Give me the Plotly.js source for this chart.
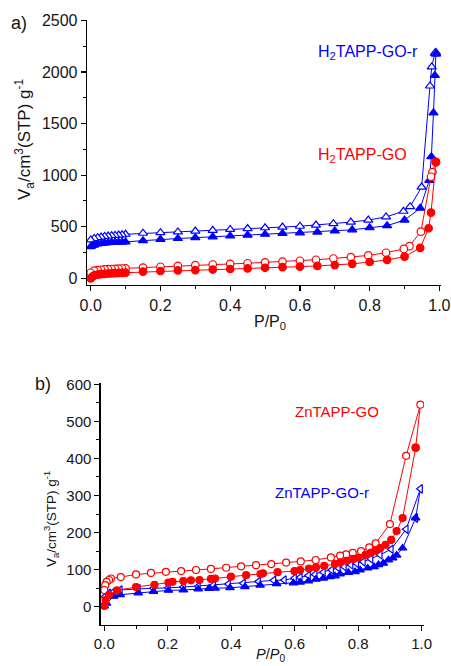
<!DOCTYPE html>
<html>
<head>
<meta charset="utf-8">
<script src="https://cdn.plot.ly/plotly-3.0.1.min.js"></script>
<style>
html,body{margin:0;padding:0;background:#fff;}
#chart{width:451px;height:666px;}
</style>
</head>
<body>
<div id="chart"></div>
<script>
// ---------- Panel a) H2TAPP-GO-r (blue triangles) ----------
const aRAdsX = [0.0, 0.005, 0.01, 0.02, 0.03, 0.04, 0.05, 0.06, 0.07, 0.08, 0.09, 0.1, 0.15, 0.2, 0.25, 0.3, 0.35, 0.4, 0.45, 0.5, 0.55, 0.6, 0.65, 0.7, 0.75, 0.8, 0.85, 0.9, 0.945, 0.971, 0.977, 0.983, 0.987, 0.99];
const aRAdsY = [307, 318, 325, 333, 338, 342, 345, 347, 349, 350, 351, 353, 365, 378, 386, 394, 402, 410, 418, 427, 435, 441, 448, 459, 470, 490, 510, 565, 680, 950, 1180, 1605, 1967, 2177];
const aRDesX = [0.99, 0.987, 0.978, 0.973, 0.949, 0.916, 0.897, 0.847, 0.796, 0.746, 0.696, 0.646, 0.6, 0.55, 0.5, 0.45, 0.4, 0.35, 0.3, 0.25, 0.2, 0.15, 0.1, 0.09, 0.08, 0.07, 0.06, 0.05, 0.04, 0.03, 0.02, 0.01, 0.0];
const aRDesY = [2190, 2183, 2050, 1865, 885, 695, 650, 595, 565, 545, 530, 516, 505, 497, 490, 482, 474, 465, 458, 450, 443, 437, 427, 422, 419, 416, 413, 410, 406, 400, 394, 386, 372];

// ---------- Panel a) H2TAPP-GO (red circles) ----------
const aGAdsX = [0.0, 0.005, 0.01, 0.02, 0.03, 0.04, 0.05, 0.06, 0.07, 0.08, 0.09, 0.1, 0.15, 0.2, 0.25, 0.3, 0.35, 0.4, 0.45, 0.5, 0.55, 0.6, 0.65, 0.7, 0.75, 0.8, 0.85, 0.9, 0.945, 0.969, 0.976, 0.99];
const aGAdsY = [0, 16, 28, 36, 40, 43, 46, 48, 50, 52, 53, 55, 65, 71, 76, 80, 85, 90, 96, 102, 108, 113, 120, 128, 140, 158, 178, 210, 295, 485, 637, 1127];
const aGDesX = [0.99, 0.98, 0.976, 0.947, 0.914, 0.898, 0.847, 0.796, 0.746, 0.696, 0.646, 0.6, 0.55, 0.5, 0.45, 0.4, 0.35, 0.3, 0.25, 0.2, 0.15, 0.1, 0.09, 0.08, 0.07, 0.06, 0.05, 0.04, 0.03, 0.02, 0.01, 0.0];
const aGDesY = [1130, 1030, 985, 452, 312, 285, 248, 222, 205, 192, 180, 170, 162, 155, 146, 140, 134, 127, 120, 112, 104, 96, 95, 93, 92, 90, 88, 86, 83, 80, 74, 54];

// ---------- Panel b) ZnTAPP-GO (red circles) ----------
const bGAdsX = [0.0, 0.004, 0.015, 0.04, 0.1, 0.158, 0.202, 0.215, 0.249, 0.273, 0.3, 0.336, 0.349, 0.399, 0.447, 0.492, 0.5, 0.546, 0.599, 0.617, 0.645, 0.667, 0.693, 0.727, 0.743, 0.764, 0.785, 0.801, 0.823, 0.841, 0.855, 0.869, 0.886, 0.904, 0.921, 0.94, 0.981];
const bGAdsY = [2, 18, 32, 44, 53, 59, 65, 67, 69, 71, 72, 75, 76, 81, 85, 88, 90, 93, 96, 99, 103, 106, 110, 115, 119, 124, 129, 132, 140, 146, 151, 158, 167, 180, 204, 239, 429];
const bGDesX = [0.996, 0.951, 0.9, 0.855, 0.835, 0.809, 0.783, 0.762, 0.743, 0.714, 0.666, 0.619, 0.573, 0.526, 0.478, 0.431, 0.384, 0.336, 0.289, 0.242, 0.194, 0.147, 0.1, 0.052, 0.021, 0.015, 0.0075, 0.003, 0.0];
const bGDesY = [545, 407, 223, 171, 160, 150, 145, 141, 138, 133, 126, 122, 119, 115, 112, 109, 105, 102, 99, 96, 94, 91, 87, 80, 76, 72, 67, 58, 45];

// ---------- Panel b) ZnTAPP-GO-r (blue triangles) ----------
const bRAdsX = [0.0, 0.007, 0.03, 0.05, 0.107, 0.155, 0.202, 0.249, 0.296, 0.33, 0.349, 0.396, 0.443, 0.491, 0.543, 0.596, 0.617, 0.643, 0.667, 0.69, 0.711, 0.727, 0.743, 0.769, 0.79, 0.806, 0.83, 0.85, 0.864, 0.879, 0.895, 0.909, 0.921, 0.94, 0.981];
const bRAdsY = [2, 9, 28, 32, 37, 41, 44, 45, 48, 49, 50, 51, 54, 58, 62, 64, 66, 69, 74, 77, 81, 83, 88, 92, 94, 99, 104, 108, 113, 117, 126, 131, 139, 158, 239];
const bRDesX = [0.996, 0.951, 0.904, 0.869, 0.84, 0.816, 0.795, 0.777, 0.756, 0.737, 0.716, 0.69, 0.664, 0.643, 0.617, 0.599, 0.567, 0.534, 0.486, 0.438, 0.391, 0.344, 0.296, 0.249, 0.202, 0.155, 0.107, 0.05, 0.029, 0.013, 0.002];
const bRDesY = [318, 209, 155, 140, 129, 121, 117, 113, 108, 105, 99, 93, 87, 84, 79, 77, 72, 71, 68, 63, 61, 58, 55, 53, 51, 50, 48, 45, 40, 36, 27];

const labelA = ['H<sub>2</sub>TAPP-GO-r', 'H<sub>2</sub>TAPP-GO'];
const labelB = ['ZnTAPP-GO', 'ZnTAPP-GO-r'];
const panelTags = ['a)', 'b)'];
const yTitle = 'V<sub>a</sub>/cm<sup>3</sup>(STP) g<sup>-1</sup>';
const xTitleA = 'P/P<sub>0</sub>';
const xTitleB = '<i>P</i>/<i>P</i><sub>0</sub>';
const xTicks = [0, 0.2, 0.4, 0.6, 0.8, 1.0];
const yTicksA = [0, 500, 1000, 1500, 2000, 2500];
const yTicksB = [0, 100, 200, 300, 400, 500, 600];

const BLUE = 'rgb(0,0,255)';
const RED = 'rgb(255,0,0)';
const FONT = '"Liberation Sans", Arial, sans-serif';
const TXT = '#151515';

function tr(x, y, color, symbol, filled, xa, ya, size) {
  return {
    x: x, y: y, type: 'scatter', mode: 'lines+markers', xaxis: xa, yaxis: ya,
    line: {color: color, width: 1},
    marker: {symbol: symbol, size: size, color: filled ? color : '#ffffff',
             line: {color: color, width: 1.2}},
    showlegend: false, hoverinfo: 'x+y'
  };
}
// desorption branches start from the last adsorption point (closing the loop)
function closeX(ads, des) { return [ads[ads.length - 1]].concat(des); }

const data = [
  tr(closeX(aRAdsX, aRDesX), closeX(aRAdsY, aRDesY), BLUE, 'triangle-up', false, 'x', 'y', 8),
  tr(aRAdsX, aRAdsY, BLUE, 'triangle-up', true, 'x', 'y', 8),
  tr(closeX(aGAdsX, aGDesX), closeX(aGAdsY, aGDesY), RED, 'circle', false, 'x', 'y', 7.5),
  tr(aGAdsX, aGAdsY, RED, 'circle', true, 'x', 'y', 7.5),
  tr(closeX(bRAdsX, bRDesX), closeX(bRAdsY, bRDesY), BLUE, 'triangle-left', false, 'x2', 'y2', 7.5),
  tr(bRAdsX, bRAdsY, BLUE, 'triangle-up', true, 'x2', 'y2', 7.5),
  tr(closeX(bGAdsX, bGDesX), closeX(bGAdsY, bGDesY), RED, 'circle', false, 'x2', 'y2', 7),
  tr(bGAdsX, bGAdsY, RED, 'circle', true, 'x2', 'y2', 7)
];

function ax(fs, extra) {
  return Object.assign({
    showline: true, linecolor: '#000', linewidth: 1.3, mirror: false,
    showgrid: false, zeroline: false,
    ticks: 'outside', ticklen: 5, tickwidth: 1.2, tickcolor: '#000',
    tickfont: {family: FONT, size: fs, color: TXT},
    automargin: false
  }, extra);
}
function minorT(d) {
  return {dtick: d, tick0: 0, ticks: 'outside', ticklen: 3, tickcolor: '#000', tickwidth: 1};
}
function ann(text, x, y, xref, yref, size, color, angle) {
  return {text: text, x: x, y: y, xref: xref, yref: yref, xanchor: 'center', yanchor: 'middle',
          showarrow: false, textangle: angle || 0, font: {family: FONT, size: size, color: color}};
}
const PX = v => v / 451;           // paper x from pixel
const PY = v => 1 - v / 666;       // paper y from pixel

const layout = {
  width: 451, height: 666,
  margin: {l: 0, r: 0, t: 0, b: 0},
  paper_bgcolor: '#fff', plot_bgcolor: '#fff',
  font: {family: FONT, size: 16, color: TXT},
  xaxis: ax(16, {
    domain: [PX(87), PX(441)], anchor: 'y', range: [-0.0106, 1.0046],
    tickvals: xTicks, tickformat: '.1f', minor: minorT(0.1)
  }),
  yaxis: ax(16, {
    domain: [PY(285), PY(20)], anchor: 'x', range: [-65, 2505],
    tickvals: yTicksA, minor: minorT(250)
  }),
  xaxis2: ax(15, {
    domain: [PX(100.7), PX(424)], anchor: 'y2', range: [-0.0113, 1.0073],
    tickvals: xTicks, tickformat: '.1f', minor: minorT(0.1)
  }),
  yaxis2: ax(15, {
    domain: [PY(625), PY(383.3)], anchor: 'x2', range: [-49.4, 602.7],
    tickvals: yTicksB, minor: minorT(50)
  }),
  annotations: [
    ann(labelA[0], 0.795, 2190, 'x', 'y', 16, BLUE),
    ann(labelA[1], 0.78, 1190, 'x', 'y', 16, RED),
    ann(labelB[0], 0.733, 526, 'x2', 'y2', 15, RED),
    ann(labelB[1], 0.687, 308, 'x2', 'y2', 15, BLUE),
    ann(panelTags[0], PX(18.5), PY(23), 'paper', 'paper', 18, TXT),
    ann(panelTags[1], PX(43), PY(384), 'paper', 'paper', 18, TXT),
    // axis titles
    ann(yTitle, PX(24), PY(139), 'paper', 'paper', 17, TXT, -90),
    ann(xTitleA, PX(270), PY(322), 'paper', 'paper', 16, TXT),
    ann(yTitle, PX(51), PY(519), 'paper', 'paper', 13.5, TXT, -90),
    ann(xTitleB, PX(270), PY(655), 'paper', 'paper', 14.5, TXT)
  ]
};

Plotly.newPlot('chart', data, layout, {displayModeBar: false, staticPlot: true});
</script>
</body>
</html>
